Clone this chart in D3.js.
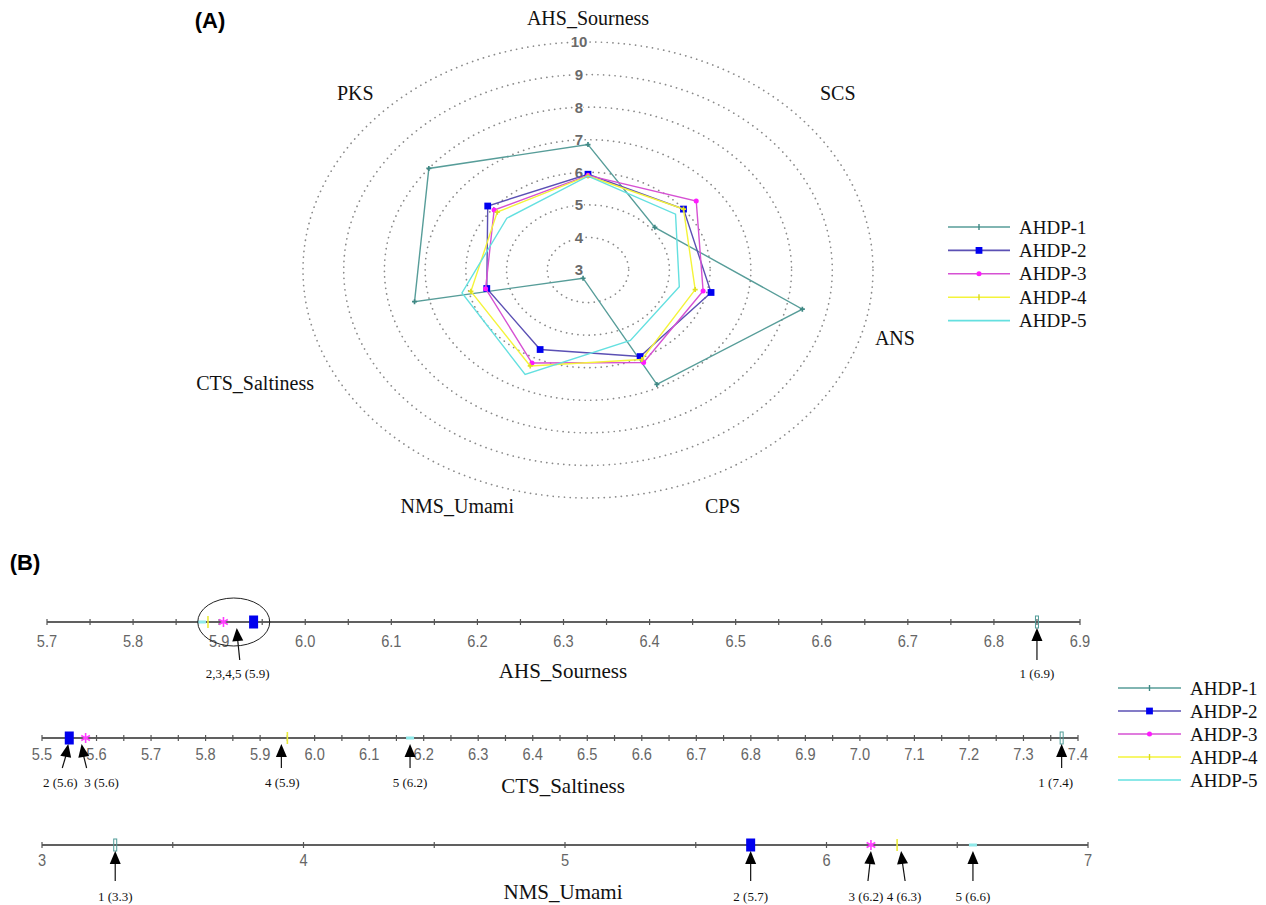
<!DOCTYPE html>
<html>
<head>
<meta charset="utf-8">
<script src="https://cdn.jsdelivr.net/npm/d3@7"></script>
<style>
  body { margin: 0; background: #fff; }
  svg { display: block; }
  .serif { font-family: "Liberation Serif", "Times New Roman", serif; fill: #111; }
  .sans { font-family: "Liberation Sans", Arial, sans-serif; }
  .narrow { font-family: "Liberation Sans", Arial, sans-serif; fill: #666; }
</style>
</head>
<body>
<div id="chart"></div>
<script>
// ---- data ----
const series = ["AHDP-1", "AHDP-2", "AHDP-3", "AHDP-4", "AHDP-5"];
const radarAxes = ["AHS_Sourness", "SCS", "ANS", "CPS", "NMS_Umami", "CTS_Saltiness", "PKS"];
const ahdp1 = [6.85, 5.1, 8.4, 6.9, 3.28, 7.37, 8.0];
const ahdp2 = [5.94, 6.0, 6.1, 5.95, 5.71, 5.55, 6.15];
const ahdp3 = [5.905, 6.4, 5.9, 6.15, 6.17, 5.58, 5.95];
const ahdp4 = [5.887, 6.0, 5.7, 6.05, 6.27, 5.95, 5.85];
const ahdp5 = [5.88, 5.75, 5.3, 5.4, 6.56, 6.175, 5.55];
const ringValues = [4, 5, 6, 7, 8, 9, 10];
const ringLabels = [3, 4, 5, 6, 7, 8, 9, 10];

const ahsTicks = [5.7, 5.8, 5.9, 6.0, 6.1, 6.2, 6.3, 6.4, 6.5, 6.6, 6.7, 6.8, 6.9];
const ctsTicks = [5.5, 5.6, 5.7, 5.8, 5.9, 6.0, 6.1, 6.2, 6.3, 6.4, 6.5, 6.6, 6.7, 6.8, 6.9, 7.0, 7.1, 7.2, 7.3, 7.4];
const nmsTicks = [3, 4, 5, 6, 7];
const ahsNotes = [["2,3,4,5", "5.9"], ["1", "6.9"]];
const ctsNotes = [["2", "5.6"], ["3", "5.6"], ["4", "5.9"], ["5", "6.2"], ["1", "7.4"]];
const nmsNotes = [["1", "3.3"], ["2", "5.7"], ["3", "6.2"], ["4", "6.3"], ["5", "6.6"]];

const values = [ahdp1, ahdp2, ahdp3, ahdp4, ahdp5];

// ---- styling ----
const lineColors = ["#579d99", "#5b50b4", "#d651d3", "#f4f43a", "#64e0e0"];
const W = 1266, H = 905;

const svg = d3.select('#chart').append('svg')
    .attr('width', W)
    .attr('height', H);

svg.append('text').attr('class', 'sans')
    .attr('x', 210).attr('y', 28).attr('text-anchor', 'middle')
    .style('font-size', '22px').style('font-weight', 'bold').text('(A)');
svg.append('text').attr('class', 'sans')
    .attr('x', 25).attr('y', 570).attr('text-anchor', 'middle')
    .style('font-size', '22px').style('font-weight', 'bold').text('(B)');

// small marker used by radar and both legends
function pointMark(g, k, x, y) {
    if (k === 0 || k === 3) {
        g.append('path')
            .attr('d', d3.symbol(d3.symbolCross, 14)())
            .attr('transform', `translate(${x},${y})`)
            .attr('fill', k === 0 ? '#3f8884' : '#e0e020');
    } else if (k === 1) {
        g.append('path')
            .attr('d', d3.symbol(d3.symbolSquare, 46)())
            .attr('transform', `translate(${x},${y})`)
            .attr('fill', '#0000f0');
    } else if (k === 2) {
        g.append('path')
            .attr('d', d3.symbol(d3.symbolCircle, 20)())
            .attr('transform', `translate(${x},${y})`)
            .attr('fill', '#ff1aff');
    }
}

// ================= (A) radar =================
const cx = 588, cy = 270;
const rX = d3.scaleLinear().domain([3, 10]).range([0, 285]);
const rY = d3.scaleLinear().domain([3, 10]).range([0, 228]);
const ang = i => i * 2 * Math.PI / radarAxes.length;
const px = (v, i) => cx + rX(v) * Math.sin(ang(i));
const py = (v, i) => cy - rY(v) * Math.cos(ang(i));

const radar = svg.append('g');

radar.append('g').selectAll('ellipse')
    .data(ringValues)
    .enter().append('ellipse')
    .attr('cx', cx).attr('cy', cy)
    .attr('rx', d => rX(d)).attr('ry', d => rY(d))
    .attr('fill', 'none')
    .attr('stroke', '#8a8a8a')
    .attr('stroke-width', 1.7)
    .attr('stroke-linecap', 'round')
    .attr('stroke-dasharray', '0.1 5.6');

radar.append('g').selectAll('text')
    .data(ringLabels)
    .enter().append('text')
    .attr('class', 'sans')
    .attr('x', cx - 9)
    .attr('y', d => cy - rY(d))
    .attr('dy', '0.36em')
    .attr('text-anchor', 'middle')
    .style('font-size', '15px')
    .style('font-weight', 'bold')
    .style('fill', '#6a6a6a')
    .style('stroke', '#fff')
    .style('stroke-width', 3)
    .style('paint-order', 'stroke')
    .text(d => d);

// axis names, around an outer ellipse with small nudges
const labelRX = 322, labelRY = 262;
const labelNudge = [[0, 10], [-2, -14], [-7, 10], [-5, 0], [9, 0], [-19, 55], [19, -14]];
radar.append('g').selectAll('text')
    .data(radarAxes)
    .enter().append('text')
    .attr('class', 'serif')
    .attr('x', (d, i) => cx + labelRX * Math.sin(ang(i)) + labelNudge[i][0])
    .attr('y', (d, i) => cy - labelRY * Math.cos(ang(i)) + labelNudge[i][1])
    .attr('dy', '0.35em')
    .attr('text-anchor', 'middle')
    .style('font-size', '20px')
    .text(d => d);

const radarLine = d3.line()
    .x(d => d.x).y(d => d.y)
    .curve(d3.curveLinearClosed);

values.forEach((vals, k) => {
    const pts = vals.map((v, i) => ({ x: px(v, i), y: py(v, i) }));
    const g = radar.append('g');
    g.append('path')
        .attr('d', radarLine(pts))
        .attr('fill', 'none')
        .attr('stroke', lineColors[k])
        .attr('stroke-width', 1.4);
    pts.forEach(p => pointMark(g, k, p.x, p.y));
});

function legend(x0, y0, step, lineW, textGap) {
    const g = svg.append('g');
    series.forEach((s, k) => {
        const y = y0 + k * step;
        g.append('line')
            .attr('x1', x0).attr('x2', x0 + lineW)
            .attr('y1', y).attr('y2', y)
            .attr('stroke', lineColors[k]).attr('stroke-width', 1.6);
        if (k === 0 || k === 3) {
            g.append('line')
                .attr('x1', x0 + lineW / 2).attr('x2', x0 + lineW / 2)
                .attr('y1', y - 3).attr('y2', y + 3)
                .attr('stroke', k === 0 ? '#3f8884' : '#d8d820').attr('stroke-width', 1.4);
        } else {
            pointMark(g, k, x0 + lineW / 2, y);
        }
        g.append('text').attr('class', 'serif')
            .attr('x', x0 + lineW + textGap).attr('y', y)
            .attr('dy', '0.35em')
            .style('font-size', '19px')
            .text(s);
    });
}
legend(948, 227, 23.4, 62, 9);

// ================= (B) strips =================
const strips = [
    { axis: 0, ticks: ahsTicks, fmt: d3.format('.1f'), range: [47, 1080], y: 622, tickY: 25, tail: 38, labelY: 56, titleY: 678, notes: ahsNotes },
    { axis: 5, ticks: ctsTicks, fmt: d3.format('.1f'), range: [42, 1078], y: 738, tickY: 22, tail: 30, labelY: 49, titleY: 793, notes: ctsNotes },
    { axis: 4, ticks: nmsTicks, fmt: d3.format('d'), range: [42, 1088], y: 845, tickY: 21, tail: 36, labelY: 56, titleY: 899, notes: nmsNotes }
];

// arrow offsets from the marker (tip, tail, label), keyed by axis|ids
const noteLayout = {
    'AHS_Sourness|2,3,4,5': [15, 18, 16],
    'CTS_Saltiness|2': [-1, -7, -9],
    'CTS_Saltiness|3': [-4, 1, 16],
    'CTS_Saltiness|4': [-6, -6, -5],
    'CTS_Saltiness|1': [0, 0, -6],
    'NMS_Umami|3': [0, -3, -5],
    'NMS_Umami|4': [4, 8, 7]
};

function stripMark(g, k, x, y) {
    if (k === 0) {
        g.append('rect').attr('x', x - 1.5).attr('y', y - 6).attr('width', 3).attr('height', 12)
            .attr('fill', 'none').attr('stroke', '#4f9c98').attr('stroke-width', 1);
    } else if (k === 1) {
        g.append('rect').attr('x', x - 4.5).attr('y', y - 6.5).attr('width', 9).attr('height', 13)
            .attr('fill', '#0000ee');
    } else if (k === 2) {
        g.append('path').attr('d', d3.symbol(d3.symbolAsterisk, 70)())
            .attr('transform', `translate(${x},${y})`)
            .attr('fill', 'none').attr('stroke', '#ff3dff').attr('stroke-width', 1.6);
    } else if (k === 3) {
        g.append('line').attr('x1', x).attr('x2', x).attr('y1', y - 6).attr('y2', y + 6)
            .attr('stroke', '#ecec3a').attr('stroke-width', 1.6);
    } else {
        g.append('rect').attr('x', x - 4).attr('y', y - 1.5).attr('width', 8).attr('height', 3)
            .attr('fill', '#8fe9e9');
    }
}

strips.forEach(st => {
    const name = radarAxes[st.axis];
    const x = d3.scaleLinear().domain(d3.extent(st.ticks)).range(st.range);
    const g = svg.append('g');

    g.append('line')
        .attr('x1', st.range[0]).attr('x2', st.range[1])
        .attr('y1', st.y).attr('y2', st.y)
        .attr('stroke', '#606060').attr('stroke-width', 2);

    const minor = d3.pairs(st.ticks).map(p => (p[0] + p[1]) / 2);
    g.selectAll('line.tick')
        .data(st.ticks.concat(minor))
        .enter().append('line')
        .attr('class', 'tick')
        .attr('x1', d => x(d)).attr('x2', d => x(d))
        .attr('y1', st.y - 3).attr('y2', st.y + 3)
        .attr('stroke', '#555').attr('stroke-width', 1.2);

    // condensed-looking tick labels
    g.selectAll('text.tl')
        .data(st.ticks)
        .enter().append('text')
        .attr('class', 'narrow tl')
        .attr('transform', d => `translate(${x(d)},${st.y + st.tickY}) scale(0.86,1)`)
        .attr('text-anchor', 'middle')
        .style('font-size', '17px')
        .text(d => st.fmt(d));

    // markers, last series first so AHDP-1 sits on top
    d3.range(series.length).reverse().forEach(k => stripMark(g, k, x(values[k][st.axis]), st.y));

    st.notes.forEach(([ids, txt]) => {
        const idx = ids.split(',').map(s => +s - 1);
        const mx = x(d3.mean(idx, k => values[k][st.axis]));
        const off = noteLayout[name + '|' + ids] || [0, 0, 0];
        const tipX = mx + off[0], tailX = mx + off[1], labX = mx + off[2];
        const tipY = st.y + 6;
        const dx = tailX - tipX, dy = st.tail;
        const len = Math.hypot(dx, dy), ux = dx / len, uy = dy / len;
        g.append('line')
            .attr('x1', tipX + ux * 12).attr('y1', tipY + uy * 12)
            .attr('x2', tailX).attr('y2', st.y + st.tail)
            .attr('stroke', '#111').attr('stroke-width', 1.2);
        const bx = tipX + ux * 13, by = tipY + uy * 13;
        g.append('path')
            .attr('d', `M${tipX},${tipY}L${bx - uy * 5.5},${by + ux * 5.5}L${bx + uy * 5.5},${by - ux * 5.5}Z`)
            .attr('fill', '#000');
        g.append('text').attr('class', 'serif')
            .attr('x', labX).attr('y', st.y + st.labelY)
            .attr('text-anchor', 'middle')
            .style('font-size', '13px')
            .text(`${ids} (${txt})`);
        // ring around overlapping markers
        if (idx.length > 1) {
            g.append('ellipse')
                .attr('cx', mx + 12).attr('cy', st.y)
                .attr('rx', 36).attr('ry', 24)
                .attr('fill', 'none').attr('stroke', '#222').attr('stroke-width', 1);
        }
    });

    g.append('text').attr('class', 'serif')
        .attr('x', 563).attr('y', st.titleY)
        .attr('text-anchor', 'middle')
        .style('font-size', '21px')
        .text(name);
});

legend(1118, 688, 23, 63, 9);
</script>
</body>
</html>
